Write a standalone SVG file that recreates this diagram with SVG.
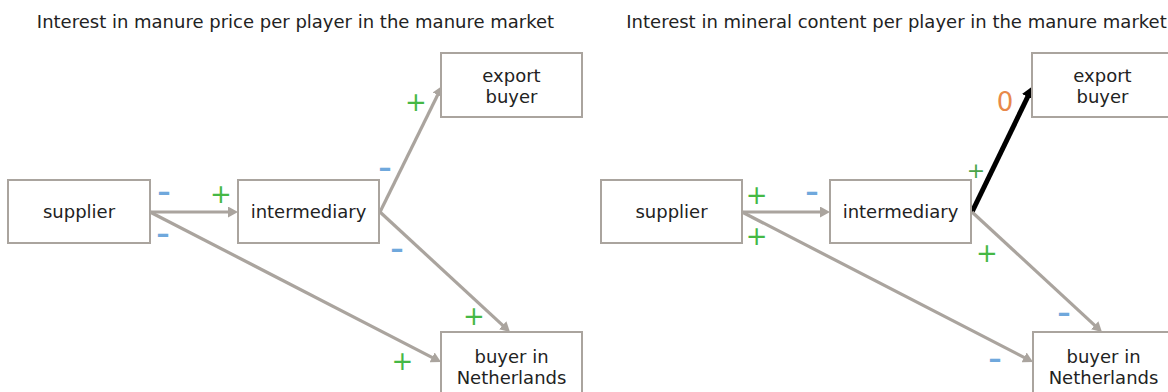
<svg xmlns="http://www.w3.org/2000/svg" width="1168" height="392" viewBox="0 0 1168 392">
<style>
text{font-family:"DejaVu Sans",Verdana,sans-serif;}
.title{font-size:18px;fill:#222;text-anchor:middle;}
.box{fill:#fff;stroke:#aaa49e;stroke-width:2;}
.lbl{font-size:18px;fill:#222;text-anchor:middle;}
.edge{stroke:#aaa49e;stroke-width:3.2;fill:none;}
.edgeb{stroke:#000;stroke-width:5;fill:none;}
.pos{font-size:26px;fill:#45b845;text-anchor:middle;}
.neg{font-size:26px;fill:#6fa8dc;text-anchor:middle;font-weight:bold;}
.zero{font-size:26px;fill:#e8894a;text-anchor:middle;}
</style>
<defs>
<marker id="ag" viewBox="0 0 10 11" refX="2" refY="5.5" markerWidth="10" markerHeight="11" markerUnits="userSpaceOnUse" orient="auto">
<path d="M0,0 L10,5.5 L0,11 z" fill="#aaa49e"/>
</marker>
<marker id="ab" viewBox="0 0 12 13" refX="2" refY="6.5" markerWidth="12" markerHeight="13" markerUnits="userSpaceOnUse" orient="auto">
<path d="M0,0 L12,6.5 L0,13 z" fill="#000"/>
</marker>
</defs>
<rect width="1168" height="392" fill="#fff"/>
<text class="title" x="295.5" y="27.5">Interest in manure price per player in the manure market</text>
<text class="title" x="896.5" y="27.5">Interest in mineral content per player in the manure market</text>

<g id="connectors">
<line class="edge" x1="150" y1="212" x2="230" y2="212" marker-end="url(#ag)"/>
<line class="edge" x1="150" y1="212" x2="433.9" y2="358.3" marker-end="url(#ag)"/>
<line class="edge" x1="380" y1="212" x2="438.5" y2="93.2" marker-end="url(#ag)"/>
<line class="edge" x1="380" y1="212" x2="504.1" y2="326.6" marker-end="url(#ag)"/>
<line class="edge" x1="742" y1="212" x2="822" y2="212" marker-end="url(#ag)"/>
<line class="edge" x1="742" y1="212" x2="1025.9" y2="358.3" marker-end="url(#ag)"/>
<line class="edgeb" x1="972" y1="212" x2="1028.6" y2="95" marker-end="url(#ab)"/>
<line class="edge" x1="972" y1="212" x2="1096.1" y2="326.6" marker-end="url(#ag)"/>
<text class="neg" x="164" y="201">–</text>
<text class="neg" x="163" y="243">–</text>
<text class="pos" x="221" y="203">+</text>
<text class="neg" x="385" y="177">–</text>
<text class="pos" x="416" y="110.6">+</text>
<text class="neg" x="397" y="258">–</text>
<text class="pos" x="474" y="324.6">+</text>
<text class="pos" x="402.5" y="369.6">+</text>
<text class="pos" x="756.7" y="203.6">+</text>
<text class="neg" x="812" y="201">–</text>
<text class="pos" x="756.7" y="245.3">+</text>
<text class="zero" x="1005" y="111">0</text>
<text class="pos" x="976" y="177.6" style="font-size:22px;fill:#4aa44a">+</text>
<text class="pos" x="987" y="261.6">+</text>
<text class="neg" x="1064" y="322">–</text>
<text class="neg" x="995" y="368">–</text>
</g>

<g id="supplier-1"><rect class="box" x="8" y="180" width="142" height="63"/><text class="lbl" x="79" y="218">supplier</text></g>
<g id="intermediary-1"><rect class="box" x="238" y="180" width="141" height="63"/><text class="lbl" x="308.5" y="218">intermediary</text></g>
<g id="export-buyer-1"><rect class="box" x="441" y="53" width="141" height="64"/><text class="lbl" x="511.5" y="81.7">export</text><text class="lbl" x="511.5" y="102.7">buyer</text></g>
<g id="buyer-nl-1"><rect class="box" x="441" y="332" width="141" height="66"/><text class="lbl" x="511.5" y="363">buyer in</text><text class="lbl" x="511.5" y="384">Netherlands</text></g>

<g id="supplier-2"><rect class="box" x="601" y="180" width="141" height="63"/><text class="lbl" x="671.5" y="218">supplier</text></g>
<g id="intermediary-2"><rect class="box" x="830" y="180" width="141" height="63"/><text class="lbl" x="900.5" y="218">intermediary</text></g>
<g id="export-buyer-2"><rect class="box" x="1032" y="53" width="141" height="64"/><text class="lbl" x="1102.5" y="81.7">export</text><text class="lbl" x="1102.5" y="102.7">buyer</text></g>
<g id="buyer-nl-2"><rect class="box" x="1033" y="332" width="141" height="66"/><text class="lbl" x="1103.5" y="363">buyer in</text><text class="lbl" x="1103.5" y="384">Netherlands</text></g>
</svg>
